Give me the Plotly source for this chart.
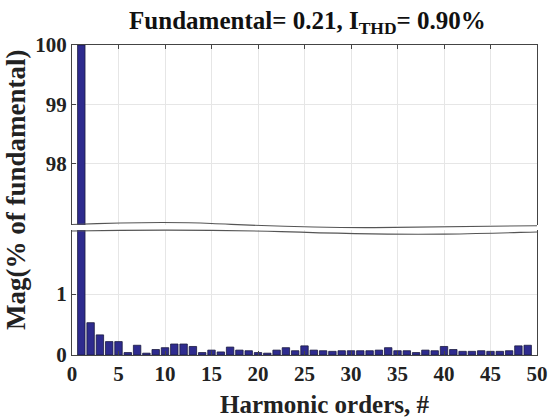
import plotly.graph_objects as go

harmonics = list(range(1, 50))
magnitude = [100, 0.53, 0.33, 0.22, 0.22, 0.04, 0.16, 0.03, 0.09, 0.12,
             0.18, 0.18, 0.14, 0.04, 0.08, 0.05, 0.13, 0.08, 0.07, 0.04,
             0.03, 0.08, 0.12, 0.07, 0.15, 0.08, 0.07, 0.06, 0.07, 0.07,
             0.07, 0.07, 0.08, 0.12, 0.07, 0.07, 0.04, 0.08, 0.07, 0.14,
             0.09, 0.06, 0.06, 0.07, 0.06, 0.06, 0.07, 0.15, 0.16]
x_ticks = list(range(0, 51, 5))
top_ticks = [98, 99, 100]
bottom_ticks = [0, 1]

FONT = "Liberation Serif"
BAR = "#2e2b8e"
GRID = "#e6e6e6"

fig = go.Figure()
bar_kw = dict(x=harmonics, y=magnitude, width=0.8,
              marker=dict(color=BAR, line=dict(color="#1a1a40", width=0.8)),
              showlegend=False, hoverinfo="x+y")
fig.add_trace(go.Bar(xaxis="x", yaxis="y", **bar_kw))
fig.add_trace(go.Bar(xaxis="x2", yaxis="y2", **bar_kw))

tickfont = dict(family=FONT, size=21, color="#222", weight="bold")
ax_common = dict(showgrid=True, gridcolor=GRID, gridwidth=1, zeroline=False,
                 linecolor="#444", linewidth=1, ticks="inside", ticklen=4,
                 tickcolor="#444", tickfont=tickfont, ticklabeloverflow="allow")

fig.update_layout(
    width=558, height=417,
    margin=dict(l=72, r=10, t=45, b=62),
    paper_bgcolor="white", plot_bgcolor="white",
    bargap=0.2,
    title=dict(text="<b>Fundamental= 0.21, I<sub>THD</sub>= 0.90%</b>",
               font=dict(family=FONT, size=25, color="#111"),
               x=0.551, xanchor="center", y=0.972, yanchor="top"),
    xaxis=dict(range=[0, 50], tickvals=x_ticks, anchor="y",
               showline=True, mirror=False, side="bottom", **ax_common),
    yaxis=dict(range=[0, 2.05], tickvals=bottom_ticks, domain=[0, 0.403],
               showline=True, mirror=True, anchor="x", **ax_common),
    xaxis2=dict(range=[0, 50], tickvals=x_ticks, anchor="y2",
                showline=True, mirror=False, side="top",
                showticklabels=False, **ax_common),
    yaxis2=dict(range=[96.97, 100], tickvals=top_ticks, domain=[0.419, 1],
                showline=True, mirror=True, anchor="x2", **ax_common),
)

# wavy break lines (paper coordinates)
fig.add_shape(type="path", xref="paper", yref="paper",
              path="M 0,0.421 C 0.12,0.428 0.22,0.43 0.3,0.424 "
                   "C 0.4,0.418 0.5,0.41 0.65,0.411 C 0.8,0.412 0.9,0.414 1,0.417",
              line=dict(color="#555", width=1.1))
fig.add_shape(type="path", xref="paper", yref="paper",
              path="M 0,0.4 C 0.15,0.404 0.3,0.404 0.45,0.398 "
                   "C 0.55,0.393 0.68,0.388 0.8,0.39 C 0.9,0.392 0.95,0.395 1,0.397",
              line=dict(color="#555", width=1.1))

fig.add_annotation(text="<b>Mag(% of fundamental)</b>", xref="paper", yref="paper",
                   x=0, y=0.532, xshift=-56, textangle=-90, showarrow=False,
                   xanchor="center", yanchor="middle",
                   font=dict(family=FONT, size=27, color="#222"))
fig.add_annotation(text="<b>Harmonic orders, #</b>", xref="paper", yref="paper",
                   x=0.542, y=-0.161, showarrow=False,
                   xanchor="center", yanchor="middle",
                   font=dict(family=FONT, size=25, color="#222"))

fig.write_html("out.html")
